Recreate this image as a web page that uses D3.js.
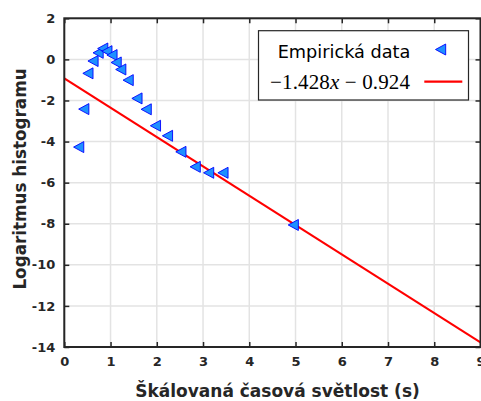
<!DOCTYPE html>
<html><head><meta charset="utf-8">
<script src="https://cdn.jsdelivr.net/npm/d3@7"></script>
<style>
html,body{margin:0;padding:0;background:#fff;overflow:hidden;}
svg{display:block;}
</style></head>
<body>
<script>
const dataX = [0.32,0.43,0.52,0.63,0.74,0.84,0.93,1.04,1.13,1.23,1.39,1.58,1.78,1.98,2.24,2.53,2.84,3.13,3.44,4.96];
const dataY = [-4.27,-2.42,-0.68,-0.08,0.32,0.53,0.40,0.21,-0.15,-0.49,-1.01,-1.90,-2.43,-3.23,-3.72,-4.50,-5.23,-5.52,-5.52,-8.06];
const fitSlope = -1.428, fitIntercept = -0.924;
const fitRange = [0, 9];
const xTicks = [0,1,2,3,4,5,6,7,8,9];
const yTicks = [2,0,-2,-4,-6,-8,-10,-12,-14];
const xLabel = "Škálovaná časová světlost (s)";
const yLabel = "Logaritmus histogramu";
const legendData = "Empirická data";

const W = 481, H = 401;
const L = 64.3, R = 480.5, T = 18.3, B = 347;
const svg = d3.select("body").append("svg").attr("width", W).attr("height", H);
const x = d3.scaleLinear().domain([0, 9]).range([L, R]);
const y = d3.scaleLinear().domain([-14, 2]).range([B, T]);

// grid
const grid = svg.append("g").attr("stroke", "#e3e3e3").attr("stroke-width", 1.5);
grid.selectAll("line.gx").data(xTicks).join("line")
  .attr("x1", d => x(d)).attr("x2", d => x(d)).attr("y1", T).attr("y2", B);
grid.selectAll("line.gy").data(yTicks).join("line")
  .attr("x1", L).attr("x2", R).attr("y1", d => y(d)).attr("y2", d => y(d));

// fit line
svg.append("line")
  .attr("x1", x(fitRange[0])).attr("y1", y(fitSlope*fitRange[0]+fitIntercept))
  .attr("x2", x(fitRange[1])).attr("y2", y(fitSlope*fitRange[1]+fitIntercept))
  .attr("stroke", "#ff0000").attr("stroke-width", 2.2);

// markers (left-pointing triangles)
const tri = (cx, cy, s) => `M${cx-s},${cy} L${cx+s*0.85},${cy-s} L${cx+s*0.85},${cy+s} Z`;
svg.append("g").selectAll("path").data(dataX.map((d,i)=>[d,dataY[i]])).join("path")
  .attr("d", d => tri(x(d[0]), y(d[1]), 5.5))
  .attr("fill", "#1e90ff").attr("stroke", "#0000ff").attr("stroke-width", 0.9);

// axes
const axisColor = "#262626";
const xb = d3.axisBottom(x).tickValues(xTicks).tickSize(-5).tickPadding(10).tickFormat(d3.format("d"));
const xt = d3.axisTop(x).tickValues(xTicks).tickSize(-5).tickFormat("");
const yl = d3.axisLeft(y).tickValues(yTicks).tickSize(-5).tickPadding(9).tickFormat(d => String(d).replace("−","-"));
const yr = d3.axisRight(y).tickValues(yTicks).tickSize(-5).tickFormat("");
function style(g){
  g.selectAll(".domain").remove();
  g.selectAll(".tick line").attr("stroke", axisColor).attr("stroke-width", 1.5);
  g.selectAll(".tick text").attr("fill", axisColor).attr("font-family", "DejaVu Sans").attr("font-weight", "bold").attr("font-size", 13);
}
svg.append("g").attr("transform", `translate(0,${B})`).call(xb).call(style);
svg.append("g").attr("transform", `translate(0,${T})`).call(xt).call(style);
svg.append("g").attr("transform", `translate(${L},0)`).call(yl).call(style);
svg.append("g").attr("transform", `translate(${R},0)`).call(yr).call(style);
svg.append("rect").attr("x", L).attr("y", T).attr("width", R-L).attr("height", B-T)
  .attr("fill", "none").attr("stroke", axisColor).attr("stroke-width", 2);

// axis labels
svg.append("text").attr("x", 277.5).attr("y", 397).attr("text-anchor", "middle")
  .attr("font-family", "DejaVu Sans").attr("font-weight", "bold").attr("font-size", 17).attr("fill", axisColor)
  .text(xLabel);
svg.append("text").attr("transform", "translate(26,179) rotate(-90)").attr("text-anchor", "middle")
  .attr("font-family", "DejaVu Sans").attr("font-weight", "bold").attr("font-size", 16.8).attr("fill", axisColor)
  .text(yLabel);

// legend
const lg = svg.append("g");
lg.append("rect").attr("x", 258.5).attr("y", 30.7).attr("width", 210).attr("height", 69.3)
  .attr("fill", "#fff").attr("stroke", axisColor).attr("stroke-width", 1.2);
lg.append("text").attr("x", 277.7).attr("y", 58).attr("font-family", "DejaVu Sans").attr("font-size", 17.7).attr("fill", "#000")
  .text(legendData);
lg.append("path").attr("d", tri(441, 49.5, 5.5)).attr("fill", "#1e90ff").attr("stroke", "#0000ff").attr("stroke-width", 0.9);
const eq = lg.append("text").attr("x", 270).attr("y", 89).attr("font-family", "Liberation Serif, DejaVu Serif, serif").attr("font-size", 21)
  .attr("textLength", 140).attr("lengthAdjust", "spacing").attr("fill", "#000");
eq.append("tspan").text("\u22121.428");
eq.append("tspan").attr("font-style", "italic").text("x");
eq.append("tspan").text(" \u2212 0.924");
lg.append("line").attr("x1", 424.3).attr("x2", 462.3).attr("y1", 81.7).attr("y2", 81.7).attr("stroke", "#ff0000").attr("stroke-width", 2.2);
</script>
</body></html>
